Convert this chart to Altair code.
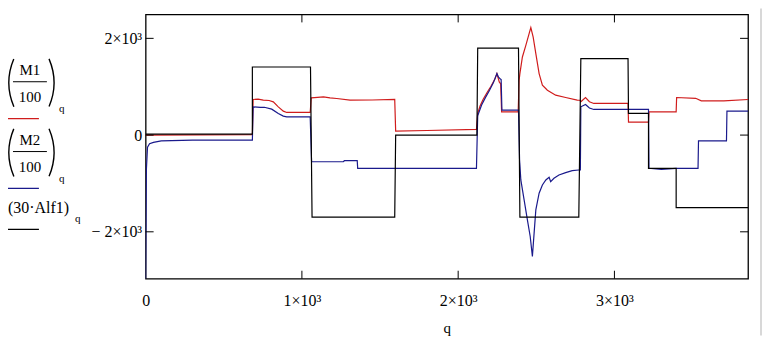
import altair as alt
import pandas as pd

# (M1/100)_q  -- red trace
m1_q = [0, 683, 688, 720, 753, 790, 817, 849, 881, 903,
        1053, 1060, 1100, 1138, 1180, 1223, 1308, 1450, 1594, 1600,
        1800, 2117, 2125, 2140, 2160, 2185, 2210, 2235, 2248, 2263,
        2272, 2278, 2384, 2390, 2395, 2411, 2433, 2454, 2465, 2480,
        2497, 2518, 2539, 2571, 2624, 2688, 2762, 2780, 2785, 2815,
        2840, 2868, 3087, 3090, 3218, 3221, 3395, 3398, 3520, 3556,
        3700, 3855]
m1_v = [0, 10, 736, 745, 722, 715, 687, 584, 495, 468,
        468, 770, 780, 790, 770, 757, 722, 725, 736, 82,
        95, 117, 447, 600, 740, 880, 1010, 1160, 1272, 1100,
        1060, 480, 480, 1134, 1272, 1615, 1856, 2097, 2221, 2027,
        1685, 1272, 1031, 928, 825, 777, 722, 720, 690, 777,
        690, 654, 654, 268, 268, 480, 480, 777, 760, 707,
        707, 736]

# (M2/100)_q  -- blue trace
m2_q = [0, 5, 12, 25, 50, 100, 300,
        683, 688, 734, 760, 807, 849, 881, 903,
        1053, 1062, 1265, 1272, 1354, 1357, 1594,
        2117, 2125, 2150, 2175, 2200, 2225, 2248, 2258, 2270, 2275, 2280,
        2386, 2393, 2401, 2422, 2443, 2461, 2475, 2486, 2497, 2518,
        2539, 2561, 2582, 2592, 2613, 2645, 2688, 2730, 2772, 2782,
        2785, 2815, 2840, 2868, 3087, 3218, 3221, 3300, 3395, 3535,
        3538, 3717, 3720, 3855]
m2_v = [-2969, -700, -250, -180, -150, -120, -105,
        -103, 584, 571, 575, 536, 447, 392, 377,
        377, -551, -551, -530, -530, -687, -687,
        -687, 400, 620, 780, 920, 1080, 1272, 1200, 1160, 1150, 516,
        516, -515, -928, -1340, -1753, -2097, -2509, -2027, -1546, -1202,
        -1031, -928, -872, -963, -893, -825, -777, -736, -722, -722,
        584, 633, 560, 530, 530, 530, -687, -710, -687, -687,
        -118, -118, 495, 495]

# (30·Alf1)_q  -- black trace
alf_q = [0, 683, 683, 1055, 1065, 1594, 1600, 2120, 2125, 2386,
         2395, 2772, 2785, 3087, 3090, 3218, 3218, 3395, 3395, 3855]
alf_v = [20, 20, 1408, 1408, -1697, -1697, 0, 0, 1800, 1800,
         -1697, -1697, 1582, 1582, 447, 447, -687, -687, -1499, -1499]

x_labels = [0, 1000, 2000, 3000]
x_ticks = [1000, 2000, 3000]
y_ticks = [-2000, 0, 2000]

W, H = 604, 265
xs = alt.Scale(domain=[0, 3855], nice=False, zero=False)
ys = alt.Scale(domain=[-2970, 2495], nice=False, zero=False)
FONT = "Liberation Serif"


def frame(qs, vs):
    return pd.DataFrame({"q": qs, "v": vs, "i": list(range(len(qs)))})


x_axis = alt.Axis(values=x_labels, title="q", ticks=False, domain=False, grid=False,
                  labelExpr="datum.value == 0 ? '0' : format(datum.value/1000, 'd') + '×10³'",
                  labelFont=FONT, labelFontSize=16, labelColor="black", labelFlush=False,
                  labelPadding=14, labelOverlap=False,
                  titleFont=FONT, titleFontSize=15, titleFontWeight="normal",
                  titleColor="black", titlePadding=12)
y_axis = alt.Axis(values=y_ticks, title=None, ticks=False, domain=False, grid=False,
                  labelExpr="datum.value == 0 ? '0' : (datum.value < 0 ? '− ' : '') + format(abs(datum.value)/1000, 'd') + '×10³'",
                  labelFont=FONT, labelFontSize=16, labelColor="black", labelFlush=False,
                  labelPadding=4, labelOverlap=False)

X = alt.X("q:Q", scale=xs, axis=x_axis)
Y = alt.Y("v:Q", scale=ys, axis=y_axis)


def trace(qs, vs, color):
    return alt.Chart(frame(qs, vs)).mark_line(color=color, strokeWidth=1.2, clip=True).encode(
        x=X, y=Y, order="i:Q")


RED, BLUE = "#d01c1c", "#1a1a8c"
red = trace(m1_q, m1_v, RED)
blue = trace(m2_q, m2_v, BLUE)
black = trace(alf_q, alf_v, "#000000")

xt = pd.DataFrame({"q": x_ticks})
yt = pd.DataFrame({"v": y_ticks})
tick_b = alt.Chart(xt).mark_rule(color="black", strokeWidth=1).encode(
    x=X, y=alt.value(H), y2=alt.value(H - 8))
tick_t = alt.Chart(xt).mark_rule(color="black", strokeWidth=1).encode(
    x=X, y=alt.value(0), y2=alt.value(8))
tick_l = alt.Chart(yt).mark_rule(color="black", strokeWidth=1).encode(
    y=Y, x=alt.value(0), x2=alt.value(8))
tick_r = alt.Chart(yt).mark_rule(color="black", strokeWidth=1).encode(
    y=Y, x=alt.value(W - 8), x2=alt.value(W))

one = pd.DataFrame({"a": [0]})


def txt(t, x, y, size=15, align="center"):
    return alt.Chart(one).mark_text(text=t, font=FONT, fontSize=size, align=align,
                                    baseline="middle", color="black").encode(
        x=alt.value(x), y=alt.value(y))


def hline(x1, x2, y, color, sw=1.2):
    return alt.Chart(one).mark_rule(color=color, strokeWidth=sw).encode(
        x=alt.value(x1), x2=alt.value(x2), y=alt.value(y))


def paren(cx, cy, t1, t2, r=62):
    # thin arc band = tall mathematical parenthesis
    return alt.Chart(one).mark_arc(color="black").encode(
        x=alt.value(cx), y=alt.value(cy),
        theta=alt.value(t1), theta2=alt.value(t2),
        radius=alt.value(r), radius2=alt.value(r - 1.4))


LT1, LT2 = 4.31, 5.11   # left side of circle
RT1, RT2 = 1.17, 1.97   # right side of circle

legend = []
for k, dy, col in [("M1", 0, RED), ("M2", 70, BLUE)]:
    legend += [
        paren(-75.7, 68.5 + dy, LT1, LT2),
        paren(-153.3, 68.5 + dy, RT1, RT2),
        txt(k, -116, 56 + dy),
        hline(-133, -99, 67.5 + dy, "black", 1),
        txt("100", -116, 82.5 + dy),
        txt("q", -84, 95 + dy, size=11),
        hline(-141, -107, 104.5 + dy, col),
    ]
legend += [
    txt("(30·Alf1)", -138, 194, align="left", size=16),
    txt("q", -68, 205, size=11),
    hline(-141, -107, 215.5, "black"),
]

# faint window edge at right
edge = alt.Chart(one).mark_rule(color="#d8d8d8", strokeWidth=2).encode(
    x=alt.value(617), y=alt.value(-6), y2=alt.value(322))

chart = alt.layer(red, blue, black, tick_b, tick_t, tick_l, tick_r, edge, *legend).properties(
    width=W, height=H,
    padding={"left": 138, "top": 6, "right": 15, "bottom": 57},
    autosize=alt.AutoSizeParams(type="none"),
    background="white",
).configure_view(stroke="black", strokeWidth=1.3).configure_axis(
    labelFont=FONT, titleFont=FONT)

chart.save("out.html", embed_options={"renderer": "svg", "actions": False})
